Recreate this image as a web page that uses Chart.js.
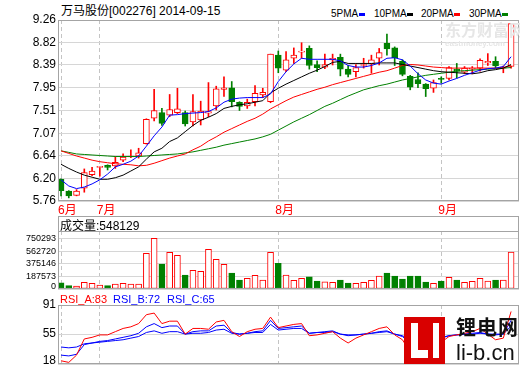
<!DOCTYPE html>
<html>
<head>
<meta charset="utf-8">
<script src="https://cdn.jsdelivr.net/npm/chart.js@4.4.1/dist/chart.umd.min.js"></script>
<style>
body { margin: 0; width: 520px; height: 365px; background: #fff; position: relative; overflow: hidden;
       font-family: 'Liberation Sans', 'Noto Sans CJK SC', sans-serif; }
canvas { position: absolute; left: 0; }
.t { position: absolute; white-space: nowrap; line-height: 1; }
.mk { position: absolute; height: 3px; width: 6px; }
</style>
</head>
<body>
<div class="t" style="left:61px;top:5px;font-size:12px;color:#000">万马股份[002276] 2014-09-15</div>
<div class="t" style="left:331px;top:9px;font-size:10px">5PMA</div><div class="mk" style="left:359px;top:13px;background:#0000ff"></div>
<div class="t" style="left:374px;top:9px;font-size:10px">10PMA</div><div class="mk" style="left:407px;top:13px;background:#000"></div>
<div class="t" style="left:421px;top:9px;font-size:10px">20PMA</div><div class="mk" style="left:454px;top:13px;background:#ff0000"></div>
<div class="t" style="left:469px;top:9px;font-size:10px">30PMA</div><div class="mk" style="left:502px;top:13px;background:#008000"></div>

<canvas id="price" width="520" height="218" style="top:0"></canvas>
<canvas id="vol" width="520" height="75" style="top:216px"></canvas>
<canvas id="rsi" width="520" height="75" style="top:290px"></canvas>

<div class="t" style="left:445px;top:23px;font-size:16px;font-weight:bold;color:#e6e6e6;z-index:2">东方财富网</div>
<div class="t" style="left:445px;top:40px;font-size:8px;font-weight:bold;color:#e6e6e6;z-index:2">eastmoney.com</div>

<div class="t" style="left:60px;top:220px;font-size:12px;color:#000;z-index:2">成交量:548129</div>
<div class="t" style="left:60px;top:294px;font-size:11px;color:#ff0000">RSI_A:83</div>
<div class="t" style="left:113px;top:294px;font-size:11px;color:#0000ff">RSI_B:72</div>
<div class="t" style="left:167px;top:294px;font-size:11px;color:#0000ff">RSI_C:65</div>

<div style="position:absolute;left:404px;top:317px;width:41px;height:47px;background:#d90000;z-index:3">
  <div style="position:absolute;left:7px;top:6px;width:7px;height:35px;background:#fff"></div>
  <div style="position:absolute;left:7px;top:33px;width:17px;height:8px;background:#fff"></div>
  <div style="position:absolute;left:29px;top:6px;width:6px;height:35px;background:#fff"></div>
</div>
<div class="t" style="left:456px;top:317px;font-size:20px;font-weight:bold;color:#111;letter-spacing:1px;z-index:3;font-family:'Noto Sans CJK SC'">锂电网</div>
<div class="t" style="left:456px;top:342px;font-size:22px;color:#111;z-index:3">li-b.cn</div>

<script>
// trading days shown
const dates = ['2014-06-24','2014-06-25','2014-06-26','2014-06-27','2014-06-30',
  '2014-07-01','2014-07-02','2014-07-03','2014-07-04','2014-07-07','2014-07-08','2014-07-09','2014-07-10','2014-07-11',
  '2014-07-14','2014-07-15','2014-07-16','2014-07-17','2014-07-18','2014-07-21','2014-07-22','2014-07-23','2014-07-24',
  '2014-07-25','2014-07-28','2014-07-29','2014-07-30','2014-07-31',
  '2014-08-01','2014-08-04','2014-08-05','2014-08-06','2014-08-07','2014-08-08','2014-08-11','2014-08-12','2014-08-13',
  '2014-08-14','2014-08-15','2014-08-18','2014-08-19','2014-08-20','2014-08-21','2014-08-22','2014-08-25','2014-08-26',
  '2014-08-27','2014-08-28','2014-08-29',
  '2014-09-01','2014-09-02','2014-09-03','2014-09-04','2014-09-05','2014-09-09','2014-09-10','2014-09-11','2014-09-12','2014-09-15'];

const open  = [6.18,5.95,5.87,6.01,6.27,6.41,6.45,6.44,6.55,6.61,6.63,6.87,7.36,7.47,7.42,7.47,7.47,7.29,7.33,7.46,
               7.60,7.92,7.95,7.67,7.60,7.68,7.81,7.68,8.58,8.29,8.52,8.64,8.71,8.40,8.35,8.49,8.54,8.31,8.26,8.38,
               8.41,8.52,8.81,8.72,8.46,8.17,8.11,8.02,7.94,8.13,8.13,8.31,8.25,8.31,8.33,8.43,8.46,8.33,8.36];
const high  = [6.19,5.96,5.98,6.38,6.41,6.43,6.46,6.62,6.67,6.75,6.78,7.35,7.92,7.55,7.82,7.94,7.50,7.82,7.69,8.05,
               7.98,8.16,8.07,7.68,7.73,7.99,7.94,8.60,8.66,8.65,8.72,8.82,8.76,8.47,8.60,8.60,8.60,8.38,8.40,8.52,
               8.58,8.71,8.99,8.74,8.49,8.19,8.24,8.03,8.10,8.16,8.36,8.42,8.36,8.36,8.51,8.61,8.55,8.37,9.19];
const low   = [5.86,5.82,5.86,5.93,6.25,6.24,6.36,6.39,6.52,6.60,6.59,6.86,7.31,7.22,7.39,7.45,7.21,7.21,7.23,7.39,
               7.52,7.78,7.58,7.51,7.55,7.60,7.76,7.66,8.24,8.26,8.42,8.52,8.31,8.26,8.32,8.39,8.18,8.16,8.16,8.33,
               8.23,8.39,8.58,8.38,8.18,7.91,7.95,7.78,7.86,8.04,8.10,8.14,8.22,8.22,8.27,8.38,8.33,8.24,8.33];
const close = [5.96,5.86,5.95,6.31,6.34,6.43,6.41,6.51,6.61,6.62,6.69,7.34,7.51,7.26,7.53,7.54,7.25,7.49,7.50,7.49,
               7.93,7.95,7.68,7.59,7.67,7.84,7.86,8.60,8.33,8.49,8.58,8.66,8.38,8.34,8.40,8.52,8.31,8.21,8.34,8.40,
               8.49,8.63,8.70,8.53,8.21,7.96,8.03,7.93,8.05,8.11,8.34,8.27,8.33,8.31,8.48,8.46,8.37,8.35,9.19];

const ma5  = [6.17,6.05,6.00,6.03,6.09,6.17,6.28,6.42,6.47,6.53,6.63,6.82,7.02,7.19,7.42,7.43,7.45,7.46,7.47,7.49,
              7.56,7.67,7.73,7.75,7.76,7.76,7.76,7.83,8.07,8.26,8.41,8.52,8.50,8.50,8.50,8.50,8.47,8.38,8.35,8.35,
              8.38,8.43,8.52,8.53,8.49,8.37,8.22,8.10,8.04,8.02,8.08,8.13,8.19,8.24,8.29,8.32,8.33,8.36,8.55];
const ma10 = [6.47,6.39,6.32,6.26,6.22,6.18,6.18,6.21,6.26,6.34,6.42,6.57,6.71,6.78,6.91,6.98,7.10,7.22,7.32,7.38,
              7.45,7.55,7.59,7.62,7.64,7.67,7.70,7.85,7.94,8.02,8.09,8.16,8.23,8.29,8.36,8.44,8.46,8.42,8.42,8.42,
              8.42,8.43,8.43,8.43,8.40,8.37,8.34,8.31,8.28,8.26,8.25,8.24,8.23,8.22,8.24,8.28,8.30,8.33,8.40];
const ma20 = [6.73,6.68,6.63,6.59,6.55,6.52,6.50,6.48,6.47,6.46,6.44,6.45,6.49,6.54,6.59,6.63,6.67,6.75,6.82,6.92,
              7.00,7.09,7.16,7.23,7.30,7.36,7.44,7.54,7.62,7.70,7.77,7.82,7.87,7.92,7.96,8.01,8.05,8.09,8.13,8.17,
              8.21,8.25,8.28,8.33,8.38,8.40,8.39,8.37,8.35,8.34,8.33,8.33,8.33,8.33,8.33,8.33,8.33,8.34,8.38];
const ma30 = [6.73,6.70,6.67,6.66,6.65,6.64,6.63,6.62,6.62,6.62,6.62,6.63,6.64,6.65,6.66,6.67,6.69,6.71,6.74,6.77,
              6.80,6.84,6.87,6.90,6.93,6.96,7.00,7.05,7.13,7.21,7.29,7.36,7.43,7.51,7.59,7.65,7.72,7.79,7.85,7.91,
              7.95,7.99,8.02,8.06,8.10,8.13,8.16,8.19,8.21,8.23,8.25,8.27,8.28,8.29,8.30,8.31,8.32,8.33,8.34];

const volume = [93000,49000,44000,99000,84000,59000,49000,74000,84000,74000,74000,528000,750293,370000,543000,499000,
                207000,277000,262000,588000,440000,366000,237000,133000,158000,203000,133000,543000,380000,207000,
                129000,158000,182000,118000,108000,99000,133000,89000,84000,99000,129000,192000,237000,192000,148000,
                192000,192000,104000,84000,118000,173000,133000,99000,114000,158000,118000,133000,133000,548129];

const rsiA = [22,20,29,49,51,54,54,58,62,64,68,79,81,68,71,71,55,62,62,61,70,72,58,52,58,61,62,76,63,65,
              67,68,53,54,56,58,50,44,50,54,58,62,64,54,48,33,31,31,35,45,52,54,56,58,62,55,48,50,83];
const rsiB = [29,28,30,42,44,46,47,49,51,53,56,64,68,63,65,65,55,58,59,59,65,66,57,55,56,58,59,72,62,63,
              64,65,56,57,58,59,55,53,54,55,56,58,59,55,52,44,43,43,45,50,53,54,55,56,57,55,54,55,72];
const rsiC = [39,38,39,43,44,45,46,47,48,50,52,57,59,56,58,58,55,56,56,57,60,61,56,55,56,57,57,67,60,61,
              62,62,56,57,57,58,55,54,54,55,56,57,58,55,53,48,47,47,48,51,53,54,55,55,56,55,55,55,65];

const priceTicks = ['5.76','6.20','6.64','7.07','7.51','7.95','8.39','8.82','9.26'];
const volTicks = ['0','187573','375146','562720','750293'];
const rsiTicks = ['18','55','91'];

const RED = '#ff0000', GREEN = '#008000', BLUE = '#0000ff';
const FONT = "'Liberation Sans', 'Noto Sans CJK SC', sans-serif";
Chart.defaults.font.family = FONT;

const up = close.map((c, i) => c >= open[i]);

// month start positions for the dashed grid and the 6月/7月... labels
const monthStart = [];
const monthLabel = [];
dates.forEach((d, i) => {
  const m = d.slice(5, 7);
  if (i === 0 || m !== dates[i - 1].slice(5, 7)) {
    monthStart.push(i);
    monthLabel.push(parseInt(m, 10) + '月');
  }
});

// grey box round each panel
const frame = {
  id: 'frame',
  afterDraw(chart, args, opts) {
    const { ctx, chartArea: a } = chart;
    const l = Math.round(a.left) + 0.5, r = Math.round(a.right) - 0.5;
    const b = Math.round(a.bottom) - 0.5, t = Math.round(a.top - (opts.extraTop || 0)) + 0.5;
    ctx.save();
    ctx.strokeStyle = '#a4a4a4';
    ctx.lineWidth = 1;
    ctx.strokeRect(l, t, r - l, b - t);
    if (opts.extraTop) {
      ctx.beginPath();
      ctx.moveTo(l, Math.round(a.top) + 0.5);
      ctx.lineTo(r, Math.round(a.top) + 0.5);
      ctx.stroke();
    }
    ctx.restore();
  }
};

function xAxis(showLabels) {
  return {
    type: 'linear', min: -0.39, max: 59.02, offset: false,
    afterBuildTicks: s => { s.ticks = monthStart.map(v => ({ value: v })); },
    afterFit: s => { s.height = showLabels ? 17 : 0; },
    grid: { color: '#c4c4c4', drawTicks: false, offset: false },
    border: { display: false, dash: [4, 3] },
    ticks: {
      display: showLabels, color: RED, align: 'start', labelOffset: -3, padding: 2,
      autoSkip: false, maxRotation: 0, font: { size: 12 },
      callback: (v, i) => monthLabel[i]
    }
  };
}

// the lowest label of the two lower panels sits a little above its line, as in the original
function yAxis(min, max, labels, fontSize, liftBottom) {
  return {
    min, max,
    afterBuildTicks: s => { s.ticks = labels.map(v => ({ value: +v })); },
    afterFit: s => { s.width = 58; s.paddingTop = 0; s.paddingBottom = 0; },
    grid: { color: '#d6d6d6', drawTicks: false },
    border: { display: false },
    ticks: {
      color: '#000', padding: 2, autoSkip: false,
      font: { size: fontSize, lineHeight: 0.6 },
      callback: (v, i) => (liftBottom && i === 0) ? [labels[i], ''] : labels[i]
    }
  };
}

const common = {
  responsive: false, animation: false, devicePixelRatio: 1,
  plugins: { legend: { display: false }, tooltip: { enabled: false } }
};

const line = (data, color) => ({
  type: 'line', data: data.map((v, i) => ({ x: i, y: v })),
  borderColor: color, borderWidth: 1, pointRadius: 0, tension: 0, order: 0
});

new Chart(document.getElementById('price'), {
  type: 'bar',
  data: {
    datasets: [
      line(ma5, BLUE), line(ma10, '#000'), line(ma20, RED), line(ma30, GREEN),
      {
        // candle bodies
        data: dates.map((d, i) => ({ x: i, y: [open[i], close[i]] })),
        backgroundColor: up.map(u => u ? '#fff' : GREEN),
        borderColor: up.map(u => u ? RED : GREEN),
        borderWidth: 1, borderSkipped: false, barThickness: 6, minBarLength: 1, grouped: false, order: 1
      },
      {
        // wicks
        data: dates.map((d, i) => ({ x: i, y: [low[i], high[i]] })),
        backgroundColor: up.map(u => u ? RED : GREEN),
        borderWidth: 0, barThickness: 1, grouped: false, order: 2
      }
    ]
  },
  options: {
    ...common,
    layout: { padding: { top: 20, right: 1, left: 0, bottom: 0 } },
    plugins: { ...common.plugins, frame: {} },
    scales: { x: xAxis(true), y: yAxis(5.76, 9.26, priceTicks, 12, false) }
  },
  plugins: [frame]
});

new Chart(document.getElementById('vol'), {
  type: 'bar',
  data: {
    datasets: [{
      data: volume.map((v, i) => ({ x: i, y: v })),
      backgroundColor: up.map(u => u ? '#fff' : GREEN),
      borderColor: up.map(u => u ? RED : GREEN),
      borderWidth: 1, borderSkipped: false, barThickness: 6, grouped: false
    }]
  },
  options: {
    ...common,
    layout: { padding: { top: 15, right: 1, left: 0, bottom: 2 } },
    plugins: { ...common.plugins, frame: { extraTop: 15 } },
    scales: { x: xAxis(false), y: yAxis(0, 860000, volTicks, 9, true) }
  },
  plugins: [frame]
});

new Chart(document.getElementById('rsi'), {
  type: 'line',
  data: {
    datasets: [line(rsiA, RED), line(rsiB, BLUE), line(rsiC, BLUE)]
  },
  options: {
    ...common,
    layout: { padding: { top: 15, right: 1, left: 0, bottom: 1 } },
    plugins: { ...common.plugins, frame: {} },
    scales: { x: xAxis(false), y: yAxis(18, 91, rsiTicks, 12, true) }
  },
  plugins: [frame]
});
</script>
</body>
</html>
